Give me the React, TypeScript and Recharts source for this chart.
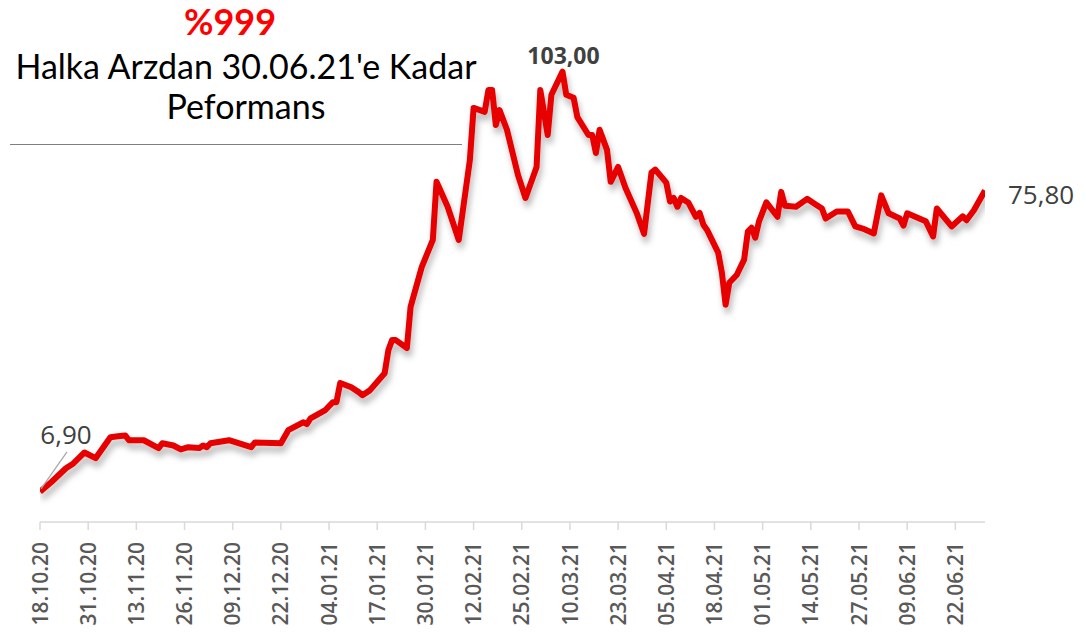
import { LineChart, Line, XAxis, YAxis } from "recharts";

// trading days
const dates = [
  "18.10.20", "21.10.20", "25.10.20", "27.10.20", "30.10.20", "02.11.20", "06.11.20", "08.11.20",
  "10.11.20", "11.11.20", "15.11.20", "19.11.20", "20.11.20", "23.11.20", "25.11.20", "27.11.20",
  "30.11.20", "01.12.20", "02.12.20", "03.12.20", "08.12.20", "14.12.20", "15.12.20", "22.12.20",
  "24.12.20", "28.12.20", "29.12.20", "30.12.20", "03.01.21", "05.01.21", "06.01.21", "07.01.21",
  "10.01.21", "12.01.21", "13.01.21", "15.01.21", "19.01.21", "20.01.21", "21.01.21", "22.01.21",
  "25.01.21", "26.01.21", "29.01.21", "01.02.21", "02.02.21", "05.02.21", "08.02.21", "11.02.21",
  "12.02.21", "15.02.21", "16.02.21", "17.02.21", "18.02.21", "19.02.21", "21.02.21", "24.02.21",
  "26.02.21", "01.03.21", "02.03.21", "04.03.21", "05.03.21", "08.03.21", "09.03.21", "11.03.21",
  "12.03.21", "15.03.21", "16.03.21", "17.03.21", "18.03.21", "20.03.21", "21.03.21", "23.03.21",
  "25.03.21", "28.03.21", "30.03.21", "01.04.21", "02.04.21", "05.04.21", "06.04.21", "07.04.21",
  "08.04.21", "09.04.21", "11.04.21", "13.04.21", "14.04.21", "15.04.21", "16.04.21", "19.04.21",
  "20.04.21", "21.04.21", "22.04.21", "24.04.21", "26.04.21", "27.04.21", "28.04.21", "29.04.21",
  "30.04.21", "02.05.21", "05.05.21", "06.05.21", "07.05.21", "10.05.21", "13.05.21", "15.05.21",
  "17.05.21", "18.05.21", "21.05.21", "24.05.21", "26.05.21", "28.05.21", "31.05.21", "02.06.21",
  "04.06.21", "07.06.21", "08.06.21", "09.06.21", "14.06.21", "16.06.21", "17.06.21", "21.06.21",
  "24.06.21", "25.06.21", "27.06.21", "30.06.21",
];

const prices = [
  6.9, 9.1, 12.3, 13.4, 15.9, 14.6, 19.4, 19.6,
  19.8, 18.7, 18.7, 16.9, 18.0, 17.5, 16.6, 17.1,
  16.9, 17.5, 17.1, 18.0, 18.7, 17.1, 18.2, 18.0,
  21.0, 22.8, 22.4, 23.7, 25.6, 27.4, 27.4, 31.8,
  30.8, 29.7, 29.0, 30.1, 34.0, 39.3, 41.6, 41.6,
  39.8, 49.2, 58.3, 64.5, 77.8, 72.1, 64.5, 82.8,
  94.7, 93.8, 98.8, 98.8, 90.8, 94.2, 89.7, 79.3,
  74.1, 81.2, 98.8, 88.5, 97.7, 103.0, 97.7, 97.0,
  92.6, 88.5, 88.5, 84.4, 89.7, 85.1, 77.8, 81.2,
  76.4, 70.7, 65.9, 79.9, 80.6, 77.6, 73.3, 74.1,
  72.1, 74.1, 73.0, 69.8, 70.7, 68.0, 66.8, 61.6,
  57.0, 49.7, 54.7, 56.5, 60.0, 66.4, 67.3, 65.0,
  68.7, 73.1, 69.8, 75.5, 72.3, 72.1, 73.9, 72.8,
  71.7, 69.4, 71.0, 71.0, 67.6, 67.1, 66.0, 74.7,
  70.6, 69.4, 67.8, 70.6, 68.8, 65.3, 71.7, 67.6,
  69.9, 69.0, 71.3, 75.8,
];

const tickDates = [
  "18.10.20", "31.10.20", "13.11.20", "26.11.20", "09.12.20", "22.12.20", "04.01.21",
  "17.01.21", "30.01.21", "12.02.21", "25.02.21", "10.03.21", "23.03.21", "05.04.21",
  "18.04.21", "01.05.21", "14.05.21", "27.05.21", "09.06.21", "22.06.21",
];

const firstDate = "18.10.20";
const lastDate = "30.06.21";

const DAY = 86400000;
function toDay(s: string) {
  const [d, m, y] = s.split(".").map(Number);
  return Date.UTC(2000 + y, m - 1, d) / DAY;
}
function fmt(day: number) {
  const dt = new Date(day * DAY);
  const p = (n: number) => String(n).padStart(2, "0");
  return `${p(dt.getUTCDate())}.${p(dt.getUTCMonth() + 1)}.${String(dt.getUTCFullYear()).slice(2)}`;
}

const chartData = dates.map((d, i) => ({ day: toDay(d), price: prices[i] }));
const peakIdx = prices.indexOf(Math.max(...prices));
const lastIdx = prices.length - 1;
const fmtVal = (v: number) => v.toFixed(2).replace(".", ",");

const DateTick = (props: any) => {
  const { x, y, payload } = props;
  return (
    <g transform={`translate(${x},${y + 10}) rotate(-90)`}>
      <text x={0} y={0} dy="0.36em" textAnchor="end" fill="#595959" fontSize={21} fontWeight={600} fontFamily="Open Sans">
        {fmt(payload.value)}
      </text>
    </g>
  );
};

const PointLabel = (props: any) => {
  const { x, y, index } = props;
  if (index === 0) {
    return (
      <g>
        <line x1={x + 1} y1={y - 3} x2={x + 27} y2={y - 40} stroke="#a6a6a6" strokeWidth={1.2} />
        <text x={x + 26} y={y - 48} textAnchor="middle" fill="#404040" fontSize={26} fontFamily="Open Sans">
          {fmtVal(prices[0])}
        </text>
      </g>
    );
  }
  if (index === peakIdx) {
    return (
      <text x={x + 1} y={y - 8} textAnchor="middle" fill="#404040" fontSize={23} fontWeight={700} fontFamily="Open Sans">
        {fmtVal(prices[peakIdx])}
      </text>
    );
  }
  if (index === lastIdx) {
    return (
      <text x={x + 23} y={y + 13} textAnchor="start" fill="#404040" fontSize={26} fontFamily="Open Sans">
        {fmtVal(prices[lastIdx])}
      </text>
    );
  }
  return null;
};

export default function App() {
  return (
    <div style={{ position: "absolute", left: 0, top: 0, width: 1086, height: 635, background: "#fff", fontFamily: "Lato" }}>
      <LineChart width={1086} height={635} data={chartData} margin={{ top: 41, right: 101, bottom: 13, left: 40 }}>
        <defs>
          <filter id="lineShadow" x="-5%" y="-5%" width="110%" height="120%">
            <feDropShadow dx="2" dy="6" stdDeviation="3" floodColor="#000" floodOpacity="0.28" />
          </filter>
        </defs>
        <XAxis
          dataKey="day"
          type="number"
          domain={[toDay(firstDate), toDay(lastDate)]}
          ticks={tickDates.map(toDay)}
          height={100}
          stroke="#d9d9d9"
          strokeWidth={1.5}
          tickSize={8}
          tick={<DateTick />}
          interval={0}
          allowDataOverflow
        />
        <YAxis hide domain={[0, 110]} />
        <Line
          dataKey="price"
          type="linear"
          stroke="#e60000"
          strokeWidth={6}
          strokeLinejoin="round"
          dot={false}
          activeDot={false}
          filter="url(#lineShadow)"
          label={<PointLabel />}
          isAnimationActive={false}
        />
      </LineChart>
      <div style={{ position: "absolute", left: 130, width: 200, top: -2, textAlign: "center", color: "#ff0000", fontWeight: 700, fontSize: 36, lineHeight: "46px" }}>
        %999
      </div>
      <div style={{ position: "absolute", left: 0, width: 492, top: 46, textAlign: "center", color: "#000", fontSize: 34, lineHeight: "40px" }}>
        Halka Arzdan 30.06.21'e Kadar
        <br />
        Peformans
      </div>
      <div style={{ position: "absolute", left: 10, top: 144, width: 452, height: 0, borderTop: "1.5px solid #808080" }} />
    </div>
  );
}
